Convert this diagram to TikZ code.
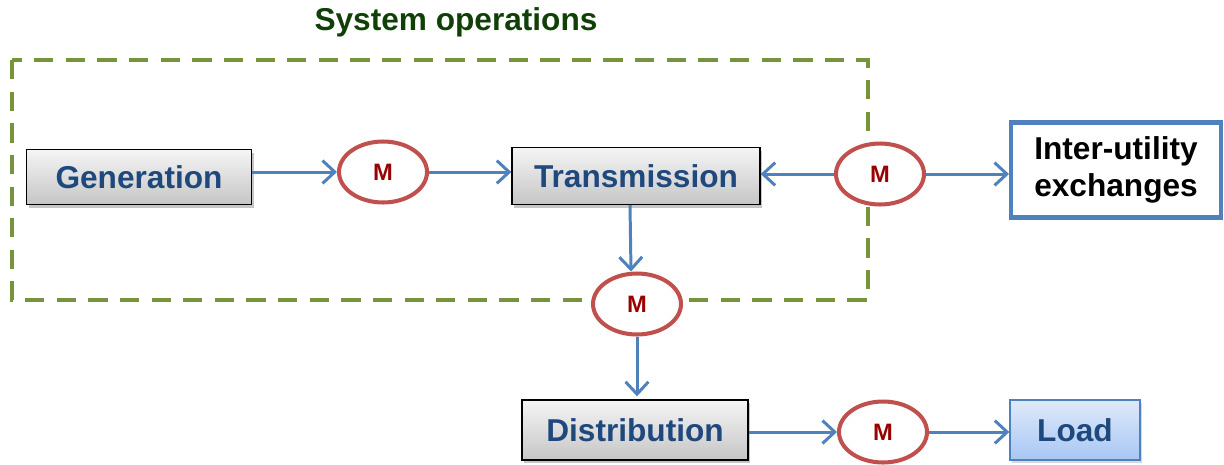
\documentclass[tikz,border=0pt]{standalone}
\usepackage{fontspec}
\setmainfont{Liberation Sans}
\usetikzlibrary{shapes.geometric,shadows,arrows.meta}
\definecolor{box text}{RGB}{31,73,125}
\definecolor{meter edge}{RGB}{192,80,77}
\definecolor{meter text}{RGB}{153,0,0}
\definecolor{flow line}{RGB}{79,129,189}
\definecolor{frame line}{RGB}{119,147,60}
\definecolor{title text}{RGB}{16,64,8}
\definecolor{load top}{RGB}{222,234,250}
\definecolor{load bottom}{RGB}{168,198,244}
\colorlet{box top}{gray!8}
\colorlet{box bottom}{gray!45}
\def\boxfont{\fontsize{18}{20}\selectfont\bfseries}
\tikzset{stage/.style={draw=black, thick, top color=box top, bottom color=box bottom,
		text=box text, font=\boxfont, inner sep=0pt,
		drop shadow={shadow xshift=1.4pt, shadow yshift=-1.8pt, opacity=0.45}},
	meter/.style={ellipse, draw=meter edge, line width=2.3pt, fill=white,
		minimum width=1.76cm, minimum height=1.22cm, text=meter text,
		font=\fontsize{13.5}{15}\selectfont\bfseries},
	flow/.style={draw=flow line, line width=1.7pt, -{Straight Barb[length=7pt,width=13pt]}}}

\begin{document}
\begin{tikzpicture}[x=0.02cm, y=-0.02cm]
		\useasboundingbox (0,0) rectangle (1224,464);
		% system operations frame
		\draw[frame line, line width=2.3pt, dash pattern=on 11pt off 7pt] (12,60) rectangle (868,300);
		\node[text=title text, font=\fontsize{18}{20}\selectfont\bfseries] (title) at (456,22) {System operations};
		
		\node[stage, minimum width=4.5cm, minimum height=1.1cm] (gen) at (139,177) {Generation};
		\node[stage, minimum width=4.96cm, minimum height=1.14cm] (trans) at (636,176) {Transmission};
		\node[stage, minimum width=4.52cm, minimum height=1.2cm] (dist) at (635,430) {Distribution};
		\node[draw=flow line, line width=2.3pt, fill=white, inner sep=0pt, align=center,
			minimum width=4.2cm, minimum height=1.9cm, font=\fontsize{18}{21}\selectfont\bfseries] (inter) at (1116,170) {Inter-utility\\exchanges};
		\node[draw=flow line, thick, top color=load top, bottom color=load bottom, inner sep=0pt,
			minimum width=2.6cm, minimum height=1.2cm, text=box text, font=\boxfont,
			drop shadow={shadow xshift=1.4pt, shadow yshift=-1.8pt, opacity=0.3}] (load) at (1075,430) {Load};
		
		\node[meter] (m1) at (383,172) {M};
		\node[meter] (m2) at (880,174) {M};
		\node[meter] (m3) at (637,304) {M};
		\node[meter] (m4) at (883,432) {M};
		
		\draw[flow] (gen.east |- m1) -- (m1);
		\draw[flow] (m1) -- (trans.west |- m1);
		\draw[flow] (m2) -- (trans.east |- m2);
		\draw[flow] (m2) -- (inter.west |- m2);
		\draw[flow] ([xshift=-0.12cm]trans.south) -- ([xshift=-0.12cm]m3.north);
		\draw[flow] (m3) -- ([yshift=0.06cm]dist.north -| m3);
		\draw[flow] (dist.east |- m4) -- (m4);
		\draw[flow] (m4) -- (load.west |- m4);
		\end{tikzpicture}
\end{document}
